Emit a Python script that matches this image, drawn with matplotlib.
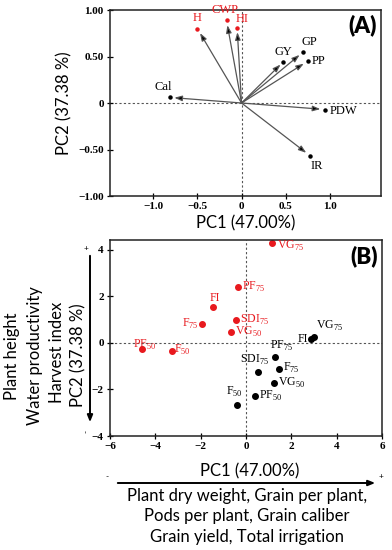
import numpy as np
import matplotlib
matplotlib.use('Agg')
import matplotlib.pyplot as plt

plt.rcParams['mathtext.fontset'] = 'custom'
plt.rcParams['mathtext.rm'] = 'Liberation Serif'
plt.rcParams['font.family'] = ['Liberation Serif', 'DejaVu Serif']

RED = '#e8191e'
SANS = 'Lato'

# panel A: variable loadings
a_names = ['H', 'CWP', 'HI', 'GY', 'GP', 'PP', 'Cal', 'PDW', 'IR']
a_pc1 = [-0.50, -0.17, -0.05, 0.47, 0.70, 0.75, -0.81, 0.95, 0.78]
a_pc2 = [0.80, 0.89, 0.81, 0.44, 0.55, 0.45, 0.06, -0.07, -0.57]
a_red = ['H', 'CWP', 'HI']

# panel B: treatment scores (two groups)
b_red_names = [('VG', '75'), ('PF', '75'), ('FI', ''), ('SDI', '75'), ('F', '75'), ('VG', '50'), ('PF', '50'), ('F', '50')]
b_red_pc1 = [1.14, -0.35, -1.45, -0.43, -1.93, -0.67, -4.60, -3.28]
b_red_pc2 = [4.30, 2.39, 1.55, 0.99, 0.82, 0.46, -0.27, -0.36]
b_blk_names = [('VG', '75'), ('FI', ''), ('PF', '75'), ('F', '75'), ('SDI', '75'), ('VG', '50'), ('PF', '50'), ('F', '50')]
b_blk_pc1 = [3.02, 2.87, 1.29, 1.44, 0.54, 1.23, 0.41, -0.40]
b_blk_pc2 = [0.27, 0.19, -0.59, -1.12, -1.23, -1.72, -2.26, -2.65]

a_xticks = [-1.0, -0.5, 0, 0.5, 1.0]
a_xticklabels = ['\u22121.0', '\u22120.5', '0', '0.5', '1.0']
a_yticks = [-1.0, -0.5, 0, 0.5, 1.0]
a_yticklabels = ['\u22121.00', '\u22120.50', '0', '0.50', '1.00']
b_xticks = [-6, -4, -2, 0, 2, 4, 6]
b_yticks = [-4, -2, 0, 2, 4]

# label offsets in points (dx, dy, ha, va)
a_off = {'H': (0, 3, 'center', 'bottom'), 'CWP': (-1, 3, 'center', 'bottom'),
         'HI': (-1, 2, 'left', 'bottom'), 'GY': (0, 3, 'center', 'bottom'),
         'GP': (-1, 3, 'left', 'bottom'), 'PP': (3, 0, 'left', 'center'),
         'Cal': (-5, 3, 'center', 'bottom'), 'PDW': (3, -1, 'left', 'center'),
         'IR': (0, -3, 'left', 'top')}
b_red_off = [(4, -2, 'left', 'center'), (3, 0, 'left', 'center'), (1, 2, 'center', 'bottom'),
             (3, 0, 'left', 'center'), (-3, 0, 'right', 'center'), (3, 0, 'left', 'center'),
             (-6, 3, 'left', 'center'), (2, 1, 'left', 'center')]
b_blk_off = [(1, 3, 'left', 'bottom'), (-2, 0, 'right', 'center'), (-4, 3, 'left', 'bottom'),
             (3, 1, 'left', 'center'), (-3, 3, 'center', 'bottom'), (3, 0, 'left', 'center'),
             (3, 0, 'left', 'center'), (-2, 4, 'center', 'bottom')]


def fx(x):
  return x / 392.0

def fy(y):
  return 1 - y / 550.0

def sub_label(name):
  base, sub = name
  return base + (r'$_{%s}$' % sub if sub else '')

def style_axes(ax):
  for s in ax.spines.values():
    s.set_linewidth(1.1)
    s.set_color('#222222')
  ax.tick_params(direction='inout', length=5, width=0.9, labelsize=8, pad=2)
  for t in ax.get_xticklabels() + ax.get_yticklabels():
    t.set_fontweight('bold')
  ax.axhline(0, color='#555555', lw=0.8, ls=(0, (2, 2)), zorder=0)
  ax.axvline(0, color='#555555', lw=0.8, ls=(0, (2, 2)), zorder=0)


fig = plt.figure(figsize=(3.92, 5.5), dpi=100)

# ---- panel A
axa = fig.add_axes([fx(110), fy(196), fx(271), 186 / 550.0])
axa.set_xlim(-1.49, 1.58)
axa.set_ylim(-1.0, 1.0)
axa.set_xticks(a_xticks)
axa.set_xticklabels(a_xticklabels)
axa.set_yticks(a_yticks)
axa.set_yticklabels(a_yticklabels)
style_axes(axa)
for n, x, y in zip(a_names, a_pc1, a_pc2):
  c = RED if n in a_red else 'black'
  axa.annotate('', xy=(0.94 * x, 0.94 * y), xytext=(0, 0),
               arrowprops=dict(arrowstyle='-|>,head_length=0.45,head_width=0.16',
                               ec='#555555', fc='black', lw=0.9, shrinkA=0, shrinkB=0))
  axa.plot(x, y, 'o', color=c, ms=2.2)
  dx, dy, ha, va = a_off[n]
  axa.annotate(n, (x, y), xytext=(dx, dy), textcoords='offset points',
               ha=ha, va=va, fontsize=9, color=c)
axa.text(0.985, 0.975, '(A)', transform=axa.transAxes, ha='right', va='top',
         fontsize=16, fontweight='heavy', family=SANS)
axa.set_xlabel('PC1 (47.00%)', family=SANS, fontsize=12, labelpad=3)
axa.set_ylabel('PC2 (37.38 %)', family=SANS, fontsize=12, labelpad=4)

# ---- panel B
axb = fig.add_axes([fx(110), fy(436), fx(272), 196 / 550.0])
axb.set_xlim(-6, 6)
axb.set_ylim(-4, 4.43)
axb.set_xticks(b_xticks)
axb.set_xticklabels([str(v).replace('-', '\u2212') for v in b_xticks])
axb.set_yticks(b_yticks)
axb.set_yticklabels([str(v).replace('-', '\u2212') for v in b_yticks])
style_axes(axb)
for names, xs, ys, offs, c in [(b_red_names, b_red_pc1, b_red_pc2, b_red_off, RED),
                               (b_blk_names, b_blk_pc1, b_blk_pc2, b_blk_off, 'black')]:
  axb.plot(xs, ys, 'o', color=c, ms=4.0, ls='none')
  for n, x, y, (dx, dy, ha, va) in zip(names, xs, ys, offs):
    axb.annotate(sub_label(n), (x, y), xytext=(dx, dy), textcoords='offset points',
                 ha=ha, va=va, fontsize=8.5, color=c)
axb.text(0.985, 0.975, '(B)', transform=axb.transAxes, ha='right', va='top',
         fontsize=16, fontweight='heavy', family=SANS)

# side descriptions for panel B
fig.text(fx(78), fy(355), 'PC2 (37.38 %)', rotation=90, ha='center', va='center', family=SANS, fontsize=12)
fig.text(fx(57), fy(352), 'Harvest index', rotation=90, ha='center', va='center', family=SANS, fontsize=12)
fig.text(fx(35), fy(356), 'Water productivity', rotation=90, ha='center', va='center', family=SANS, fontsize=12)
fig.text(fx(12), fy(356), 'Plant height', rotation=90, ha='center', va='center', family=SANS, fontsize=12)
fig.add_artist(matplotlib.patches.FancyArrowPatch((fx(90), fy(253)), (fx(90), fy(425)),
               transform=fig.transFigure, arrowstyle='-|>,head_length=0.5,head_width=0.2',
               color='black', lw=1.4, mutation_scale=8))
fig.text(fx(86), fy(249), '+', ha='center', va='center', fontsize=6, family=SANS)
fig.text(fx(86), fy(431), '-', rotation=90, ha='center', va='center', fontsize=6, family=SANS)

fig.text(fx(250), fy(471), 'PC1 (47.00%)', ha='center', va='center', family=SANS, fontsize=12)
fig.add_artist(matplotlib.patches.FancyArrowPatch((fx(115), fy(483)), (fx(378), fy(483)),
               transform=fig.transFigure, arrowstyle='-|>,head_length=0.5,head_width=0.2',
               color='black', lw=1.4, mutation_scale=8))
fig.text(fx(107), fy(477), '-', ha='center', va='center', fontsize=6, family=SANS)
fig.text(fx(381), fy(476), '+', ha='center', va='center', fontsize=6, family=SANS)
fig.text(fx(247), fy(496), 'Plant dry weight, Grain per plant,', ha='center', va='center', family=SANS, fontsize=12)
fig.text(fx(247), fy(516), 'Pods per plant, Grain caliber', ha='center', va='center', family=SANS, fontsize=12)
fig.text(fx(247), fy(537), 'Grain yield, Total irrigation', ha='center', va='center', family=SANS, fontsize=12)

fig.savefig('out.png', dpi=100)
